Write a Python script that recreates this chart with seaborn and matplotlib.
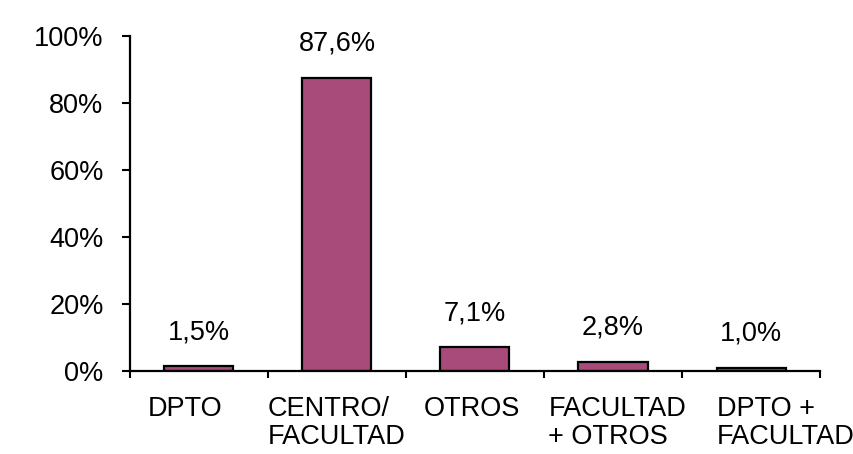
import numpy as np
import pandas as pd
import matplotlib
matplotlib.use('Agg')
import matplotlib.pyplot as plt
import matplotlib.ticker as mticker
import seaborn as sns

categories = ['DPTO', 'CENTRO/\nFACULTAD', 'OTROS', 'FACULTAD\n+ OTROS', 'DPTO +\nFACULTAD']
values = [1.5, 87.6, 7.1, 2.8, 1.0]
value_labels = ['1,5%', '87,6%', '7,1%', '2,8%', '1,0%']

sns.set_style('white')
plt.rcParams['font.family'] = ['Liberation Sans', 'DejaVu Sans']
plt.rcParams['text.color'] = 'black'
plt.rcParams['xtick.color'] = 'black'
plt.rcParams['ytick.color'] = 'black'

df = pd.DataFrame({'cat': categories, 'val': values})

fig = plt.figure(figsize=(8.54, 4.54), dpi=100)
ax = fig.add_axes([0.1522, 0.1828, 0.808, 0.7379])

sns.barplot(data=df, x='cat', y='val', color='#A84B7A', saturation=1,
            edgecolor='black', linewidth=1.6, width=0.5, ax=ax)

fs = 19.5
ax.set_xlim(-0.5, len(categories) - 0.5)
ax.set_ylim(0, 100)
ax.yaxis.set_major_locator(mticker.MultipleLocator(20))
ax.yaxis.set_major_formatter(mticker.FuncFormatter(lambda v, p: f'{v:.0f}%'))
ax.tick_params(axis='y', direction='out', length=6, width=1.5, labelsize=fs, pad=13, left=True)

# tick marks between categories, labels drawn as text
ax.set_xticks(np.arange(-0.5, len(categories), 1))
ax.set_xticklabels([])
ax.tick_params(axis='x', direction='out', length=5, width=1.5, bottom=True)
ax.set_xlabel('')
ax.set_ylabel('')

for s in ['top', 'right']:
    ax.spines[s].set_visible(False)
for s in ['left', 'bottom']:
    ax.spines[s].set_linewidth(1.6)
    ax.spines[s].set_color('black')

# value labels
for i, (v, lab) in enumerate(zip(values, value_labels)):
    ax.annotate(lab, (i, v), xytext=(0, 15), textcoords='offset points',
                ha='center', va='bottom', fontsize=fs)

# category labels (left-aligned multi-line blocks)
x_shift = [-0.1, 0.0, -0.02, 0.03, 0.25]
for i, (c, dx) in enumerate(zip(categories, x_shift)):
    ax.annotate(c, (i + dx, 0), xycoords=('data', 'data'), xytext=(0, -18),
                textcoords='offset points', ha='center', va='top',
                multialignment='left', fontsize=fs, linespacing=1.1,
                annotation_clip=False)

fig.savefig('out.png', dpi=100)
